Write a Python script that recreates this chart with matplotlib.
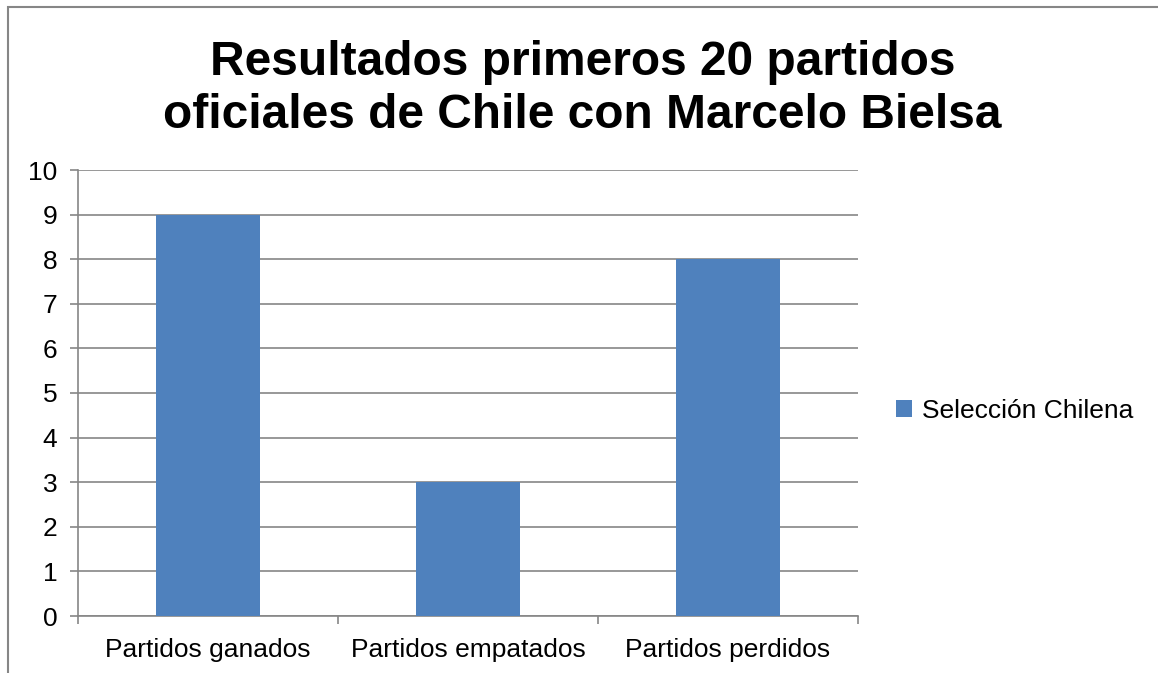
import matplotlib.pyplot as plt
from matplotlib.patches import Rectangle, Patch
import numpy as np

CATEGORIES = ["Partidos ganados", "Partidos empatados", "Partidos perdidos"]
VALUES = [9, 3, 8]
SERIES_NAME = "Selección Chilena"
TITLE = "Resultados primeros 20 partidos\noficiales de Chile con Marcelo Bielsa"

BAR_COLOR = "#4F81BD"
LINE_COLOR = "#868686"

plt.rcParams["font.family"] = ["Liberation Sans", "DejaVu Sans"]

fig = plt.figure(figsize=(11.58, 6.73), dpi=100)
ax = fig.add_axes([78 / 1158, 1 - 616 / 673, 780 / 1158, 446 / 673])

x = np.arange(len(CATEGORIES))
ax.bar(x, VALUES, width=0.4, color=BAR_COLOR, zorder=3, label=SERIES_NAME)

ax.set_xlim(-0.5, 2.5)
ax.set_ylim(0, 10)
ax.set_yticks(range(0, 11))
ax.grid(axis="y", color=LINE_COLOR, linewidth=1.2, zorder=0)

for side in ("top", "right"):
    ax.spines[side].set_visible(False)
for side in ("left", "bottom"):
    ax.spines[side].set_color(LINE_COLOR)
    ax.spines[side].set_linewidth(1.2)

ax.set_xticks(x)
ax.set_xticklabels(CATEGORIES)
ax.tick_params(axis="x", length=0, pad=16, labelsize=19)
ax.set_xticks([-0.5, 0.5, 1.5, 2.5], minor=True)
ax.tick_params(axis="x", which="minor", length=6, width=1.2, color=LINE_COLOR)
ax.tick_params(axis="y", length=6, width=1.2, color=LINE_COLOR, pad=9, labelsize=19)

fig.text(0.503, 1 - 89 / 673, TITLE, ha="center", va="center", fontsize=34.5,
         fontweight="bold", linespacing=1.25)

handle = Patch(facecolor=BAR_COLOR, edgecolor="none")
fig.legend([handle], [SERIES_NAME], loc="center left",
           bbox_to_anchor=(872 / 1158, 1 - 411 / 673), frameon=False,
           fontsize=19, handlelength=0.6, handleheight=0.6, handletextpad=0.4)

# chart border (right and bottom edges fall off the canvas)
fig.patches.append(Rectangle((8 / 1158, -0.1), 1.2, 1 - 7 / 673 + 0.1,
                             transform=fig.transFigure, fill=False,
                             edgecolor=LINE_COLOR, linewidth=1.5))

fig.savefig("out.png", dpi=100)
